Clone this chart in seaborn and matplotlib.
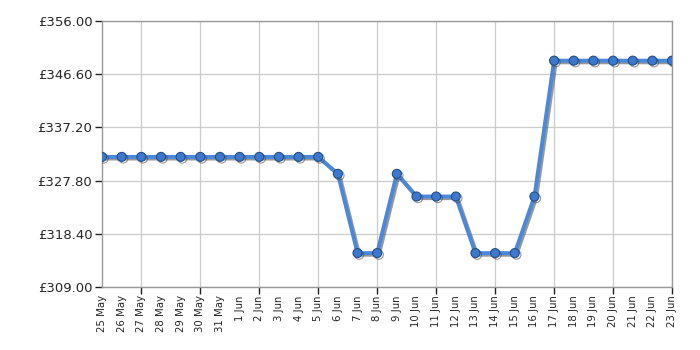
import matplotlib
matplotlib.use("Agg")
import matplotlib.pyplot as plt
import matplotlib.patheffects as pe
import seaborn as sns
import pandas as pd

# price history, one point per day
DATES = ["25 May", "26 May", "27 May", "28 May", "29 May", "30 May", "31 May",
         "1 Jun", "2 Jun", "3 Jun", "4 Jun", "5 Jun", "6 Jun", "7 Jun", "8 Jun",
         "9 Jun", "10 Jun", "11 Jun", "12 Jun", "13 Jun", "14 Jun", "15 Jun",
         "16 Jun", "17 Jun", "18 Jun", "19 Jun", "20 Jun", "21 Jun", "22 Jun", "23 Jun"]
PRICES = [331.99, 331.99, 331.99, 331.99, 331.99, 331.99, 331.99,
          331.99, 331.99, 331.99, 331.99, 331.99, 328.99, 314.99, 314.99,
          328.99, 324.99, 324.99, 324.99, 314.99, 314.99, 314.99,
          324.99, 348.99, 348.99, 348.99, 348.99, 348.99, 348.99, 348.99]
Y_TICKS = [309.00, 318.40, 327.80, 337.20, 346.60, 356.00]

df = pd.DataFrame({"day": range(len(DATES)), "price": PRICES})

sns.set_style("white")
plt.rcParams['font.family'] = ['DejaVu Sans']

fig = plt.figure(figsize=(7, 3.5), dpi=100)
ax = fig.add_axes([102 / 700, 1 - 287 / 350, 570 / 700, 266 / 350])

sns.lineplot(data=df, x="day", y="price", ax=ax, color="#4a88dc", linewidth=2.8,
             marker="o", markersize=6.5, markerfacecolor="#3d78cc",
             markeredgecolor="#1f4f8f", markeredgewidth=0.8, zorder=3,
             path_effects=[pe.SimpleLineShadow(offset=(1.2, -1.2), shadow_color="#444444", alpha=0.55),
                           pe.Normal()])

ax.set_xlim(0, len(DATES) - 1)
ax.set_ylim(Y_TICKS[0], Y_TICKS[-1])
ax.set_yticks(Y_TICKS)
ax.set_yticklabels([f"£{v:.2f}" for v in Y_TICKS], fontsize=9.5)

# every day labelled, tick marks + grid every third day
ax.xaxis.remove_overlapping_locs = False
ax.set_xticks(range(len(DATES)))
ax.set_xticklabels(DATES, rotation=90, fontsize=7.3)
ax.set_xticks(list(range(2, len(DATES), 3)), minor=True)
ax.tick_params(axis="x", which="major", bottom=True, length=0, pad=6)
ax.tick_params(axis="x", which="minor", bottom=True, length=5, width=1, color="#222222")
ax.tick_params(axis="y", left=True, length=5, width=1, color="#222222", pad=2)

ax.grid(False, axis="x", which="major")
ax.grid(True, axis="x", which="minor", color="#cccccc", linewidth=0.9)
ax.grid(True, axis="y", which="major", color="#cccccc", linewidth=0.9)
ax.set_axisbelow(True)
for s in ax.spines.values():
    s.set_color("#999999")
    s.set_linewidth(1)
ax.set_xlabel("")
ax.set_ylabel("")

fig.savefig("out.png", dpi=100)
